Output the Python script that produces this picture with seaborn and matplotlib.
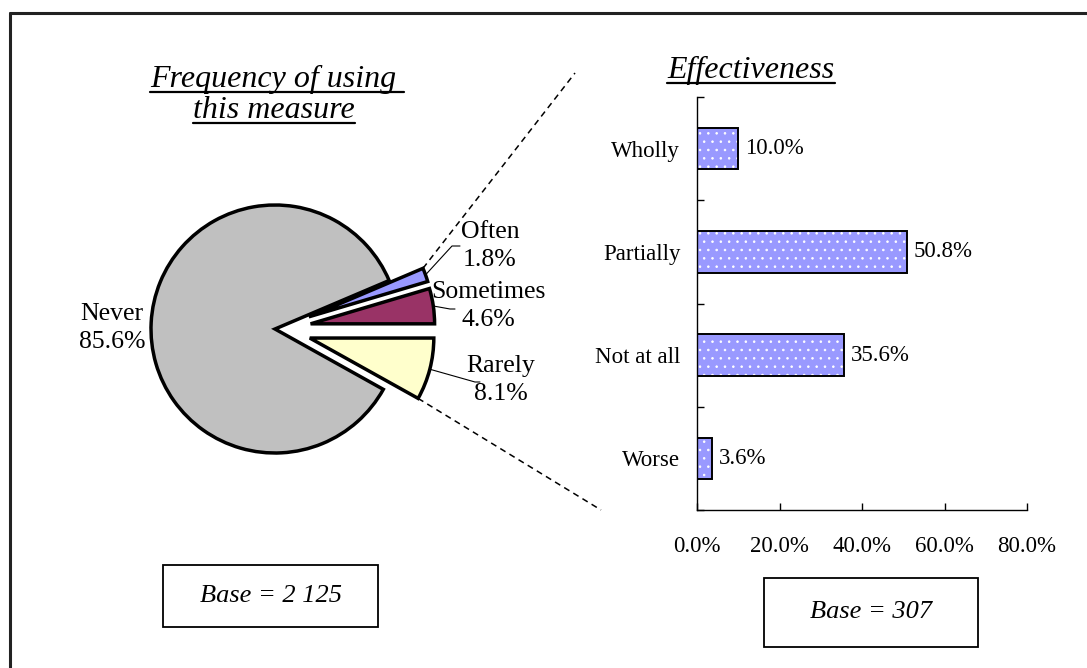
import matplotlib
matplotlib.use('Agg')
import matplotlib.pyplot as plt
import seaborn as sns
import numpy as np
from matplotlib.patches import Rectangle
from matplotlib.lines import Line2D

# pie data (counter-clockwise from the right)
freq_labels = ['Rarely', 'Sometimes', 'Often', 'Never']
freq_values = [8.1, 4.6, 1.8, 85.6]
freq_colors = ['#FFFFCC', '#993366', '#9999FF', '#C0C0C0']
freq_explode = [0.29, 0.29, 0.29, 0.0]

# bar data
eff_labels = ['Wholly', 'Partially', 'Not at all', 'Worse']
eff_values = [10.0, 50.8, 35.6, 3.6]
eff_ticks = [0, 20, 40, 60, 80]

pie_title = ['Frequency of using ', 'this measure']
bar_title = 'Effectiveness'
pie_base = 'Base = 2 125'
bar_base = 'Base = 307'

W, H = 1087, 668
R = 124.0  # pie radius in px
CX, CY = 275, 329  # pie centre in px


def fx(x):
    return x / W


def fy(y):
    return 1 - y / H


def pd_(x, y):
    # pixel position -> pie data coords
    return (x - CX) / R, (CY - y) / R


sns.set_theme(style='white')
plt.rcParams['font.family'] = ['Liberation Serif', 'DejaVu Serif']
plt.rcParams['hatch.linewidth'] = 0.6
for k in ['text.color', 'axes.labelcolor', 'xtick.color', 'ytick.color']:
    plt.rcParams[k] = 'black'

fig = plt.figure(figsize=(W / 100, H / 100), dpi=100)

# ---------------- pie ----------------
half = 175
ax1 = fig.add_axes([fx(CX - half), fy(CY + half), 2 * half / W, 2 * half / H])
total = sum(freq_values)
start = -360 * freq_values[0] / total
wedges, _ = ax1.pie(freq_values, colors=freq_colors, explode=freq_explode,
                    startangle=start, counterclock=True,
                    wedgeprops=dict(edgecolor='black', linewidth=2.5))
lim = half / R
ax1.set_xlim(-lim, lim)
ax1.set_ylim(-lim, lim)
ax1.axis('off')


def wedge_point(w, ang, r=1.0):
    cx, cy = w.center
    a = np.deg2rad(ang)
    return cx + r * w.r * np.cos(a), cy + r * w.r * np.sin(a)


label_pos = {
    'Never': (112, 328),
    'Often': (490, 246),
    'Sometimes': (488, 306),
    'Rarely': (501, 380),
}
elbows = {
    'Often': [(452, 246), (460, 246)],
    'Sometimes': [(450, 309), (455, 309)],
    'Rarely': [(475, 382), (480, 382)],
}
for w, lab, val in zip(wedges, freq_labels, freq_values):
    tx, ty = pd_(*label_pos[lab])
    ax1.text(tx, ty, f'{lab}\n{val:.1f}%', ha='center', va='center',
             fontsize=18.5, linespacing=1.3)
    if lab in elbows:
        mid = (w.theta1 + w.theta2) / 2
        sx, sy = wedge_point(w, mid)
        pts = [(sx, sy)] + [pd_(*p) for p in elbows[lab]]
        ax1.plot([p[0] for p in pts], [p[1] for p in pts], color='black',
                 lw=0.8, clip_on=False)

# dashed connectors to the bar chart
often_w = wedges[freq_labels.index('Often')]
rarely_w = wedges[freq_labels.index('Rarely')]
p0 = wedge_point(often_w, often_w.theta2)
p1 = pd_(575, 73)
ax1.plot([p0[0], p1[0]], [p0[1], p1[1]], color='black', lw=1.1,
         ls=(0, (4, 3)), clip_on=False)
q0 = wedge_point(rarely_w, rarely_w.theta1)
q1 = pd_(601, 510)
ax1.plot([q0[0], q1[0]], [q0[1], q1[1]], color='black', lw=1.1,
         ls=(0, (4, 3)), clip_on=False)

# ---------------- bars ----------------
ax2 = fig.add_axes([fx(697), fy(510), 330 / W, 413 / H])
sns.barplot(x=eff_values, y=eff_labels, orient='h', color='#9999FF',
            saturation=1, width=0.4, ax=ax2)
bars = list(ax2.patches)
for p in bars:
    p.set_hatch('..')
    p.set_edgecolor('white')
    p.set_linewidth(0)
    ax2.add_patch(Rectangle(p.get_xy(), p.get_width(), p.get_height(),
                            fill=False, edgecolor='black', lw=1.4))
ax2.bar_label(ax2.containers[0], labels=[f'{v:.1f}%' for v in eff_values],
              padding=5, fontsize=16.5, color='black')

ax2.set_xlim(eff_ticks[0], eff_ticks[-1])
ax2.set_ylim(len(eff_labels) - 0.5, -0.5)
ax2.set_xticks(eff_ticks)
ax2.set_xticklabels([f'{t:.1f}%' for t in eff_ticks])
ax2.set_yticks(range(len(eff_labels)))
ax2.set_yticklabels(eff_labels)
ax2.set_yticks(np.arange(len(eff_labels) + 1) - 0.5, minor=True)
ax2.set_xlabel('')
ax2.set_ylabel('')
ax2.tick_params(axis='y', which='major', length=0, pad=12, labelsize=16.5)
ax2.tick_params(axis='y', which='minor', left=True, direction='in',
                length=5, width=1, color='black')
ax2.tick_params(axis='x', bottom=True, direction='in', length=5, width=1,
                color='black', pad=19, labelsize=16.5)
for s in ['top', 'right']:
    ax2.spines[s].set_visible(False)
for s in ['left', 'bottom']:
    ax2.spines[s].set_color('black')
    ax2.spines[s].set_linewidth(1.0)

# ---------------- titles with underline ----------------
title_specs = [
    (pie_title[0], 277, 87),
    (pie_title[1], 274, 118),
    (bar_title, 751, 78),
]
title_texts = []
for txt, x, y in title_specs:
    t = fig.text(fx(x), fy(y), txt, ha='center', va='baseline',
                 fontsize=23, style='italic')
    title_texts.append((t, y))

fig.canvas.draw()
renderer = fig.canvas.get_renderer()
for t, y in title_texts:
    bb = t.get_window_extent(renderer=renderer)
    fig.add_artist(Line2D([bb.x0 / W, bb.x1 / W], [fy(y + 5), fy(y + 5)],
                          color='black', lw=1.6))

# ---------------- base boxes ----------------
for txt, (x0, y0, x1, y1) in [(pie_base, (163, 565, 378, 627)),
                              (bar_base, (764, 578, 978, 647))]:
    fig.add_artist(Rectangle((fx(x0), fy(y1)), (x1 - x0) / W, (y1 - y0) / H,
                             fill=False, edgecolor='black', lw=1.3,
                             transform=fig.transFigure))
    fig.text(fx((x0 + x1) / 2), fy((y0 + y1) / 2), txt, ha='center',
             va='center', fontsize=19, style='italic')

# outer frame (top and left edges)
fig.add_artist(Line2D([fx(10), 1.0], [fy(13), fy(13)], color='#222222', lw=2.2))
fig.add_artist(Line2D([fx(10), fx(10)], [fy(13), 0.0], color='#222222', lw=2.2))

fig.savefig('out.png', dpi=100)
